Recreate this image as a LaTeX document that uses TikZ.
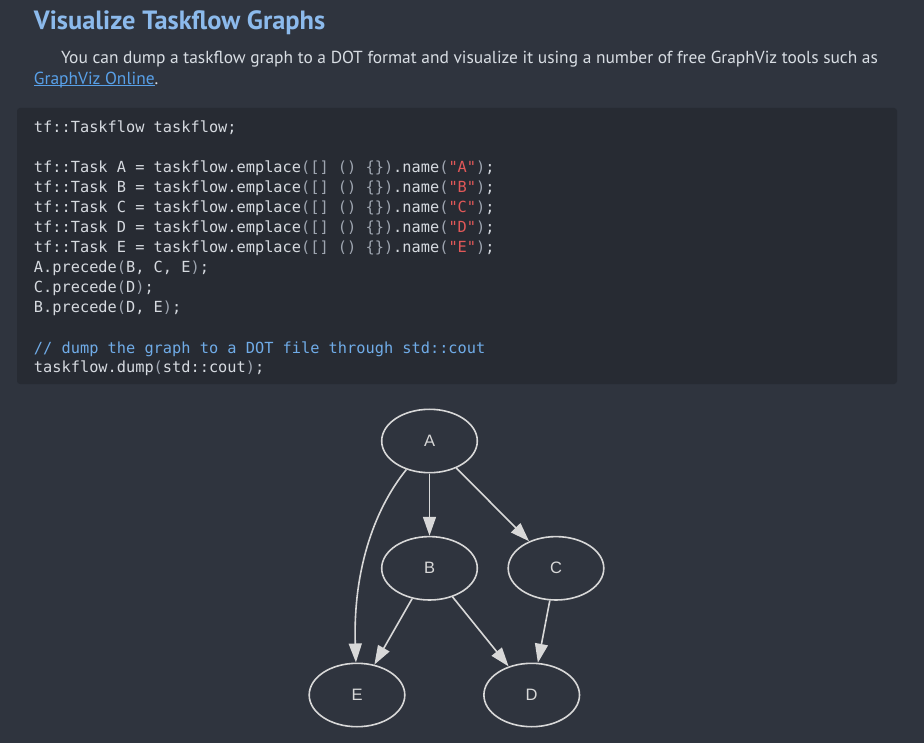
\documentclass[tikz,border=0pt]{standalone}
\usepackage{fontspec}
\usetikzlibrary{arrows.meta,shapes.geometric}
\setmainfont{PT Sans}
\newfontfamily\codefont{DejaVu Sans Mono}
\newfontfamily\graphfont{Liberation Sans}
\definecolor{pagebg}{RGB}{47,52,62}
\definecolor{codebg}{RGB}{39,43,51}
\definecolor{headcol}{RGB}{140,186,236}
\definecolor{textcol}{RGB}{216,221,227}
\definecolor{linkcol}{RGB}{88,160,232}
\definecolor{codecol}{RGB}{214,218,224}
\definecolor{codedim}{RGB}{158,165,176}
\definecolor{codestr}{RGB}{226,88,88}
\definecolor{codecmt}{RGB}{112,172,232}
\definecolor{graphcol}{RGB}{216,216,216}
\newcommand\dm[1]{\textcolor{codedim}{#1}}
\newcommand\sr[1]{\textcolor{codestr}{#1}}
\tikzset{
  txt/.style={anchor=base west, inner sep=0pt, outer sep=0pt},
  codeline/.style={txt, text=codecol, font=\codefont\fontsize{15.3}{20}\selectfont},
  task/.style={ellipse, draw=graphcol, line width=1.6pt, minimum width=95.6pt, minimum height=63.4pt, inner sep=0pt, text=graphcol, font=\graphfont\fontsize{16.5}{18}\selectfont},
  edge/.style={draw=graphcol, line width=1.6pt, -{Triangle[length=19pt,width=13pt]}}
}
\begin{document}
\begin{tikzpicture}[x=1pt,y=-1pt]
\fill[pagebg] (0,0) rectangle (924,743);
\useasboundingbox (0,0) rectangle (924,743);
% heading
\node[txt, text=headcol, font=\fontsize{26.4}{30}\selectfont\bfseries] (title) at (34,29.3) {Visualize Taskflow Graphs};
% paragraph
\node[txt, text=textcol, font=\fontsize{17.4}{22}\selectfont] (p1) at (61,63.3) {You can dump a taskflow graph to a DOT format and visualize it using a number of free GraphViz tools such as};
\node[txt, text=linkcol, font=\fontsize{17.4}{22}\selectfont] (lnk) at (34,84.3) {GraphViz Online};
\node[txt, text=textcol, font=\fontsize{17.4}{22}\selectfont, anchor=base west] (dot) at (lnk.base east) {.};
\draw[linkcol, line width=1pt] ([yshift=-1.6pt]lnk.base west) -- ([yshift=-1.6pt]lnk.base east);
% code block
\fill[codebg, rounded corners=3pt] (17,108) rectangle (897,384);
\node[codeline] (c1) at (34,133) {tf::Taskflow taskflow;};
\node[codeline] (c2) at (34,173) {tf::Task A = taskflow.emplace\dm{([] () \{\})}.name\dm{(}\sr{"A"}\dm{)};};
\node[codeline] (c3) at (34,193) {tf::Task B = taskflow.emplace\dm{([] () \{\})}.name\dm{(}\sr{"B"}\dm{)};};
\node[codeline] (c4) at (34,213) {tf::Task C = taskflow.emplace\dm{([] () \{\})}.name\dm{(}\sr{"C"}\dm{)};};
\node[codeline] (c5) at (34,233) {tf::Task D = taskflow.emplace\dm{([] () \{\})}.name\dm{(}\sr{"D"}\dm{)};};
\node[codeline] (c6) at (34,253) {tf::Task E = taskflow.emplace\dm{([] () \{\})}.name\dm{(}\sr{"E"}\dm{)};};
\node[codeline] (c7) at (34,273) {A.precede\dm{(}B, C, E\dm{)};};
\node[codeline] (c8) at (34,293) {C.precede\dm{(}D\dm{)};};
\node[codeline] (c9) at (34,313) {B.precede\dm{(}D, E\dm{)};};
\node[codeline, text=codecmt] (c10) at (34,353) {// dump the graph to a DOT file through std::cout};
\node[codeline] (c11) at (34,373) {taskflow.dump\dm{(}std::cout\dm{)};};
% graph
\node[task] (A) at (429.5,441) {A};
\node[task] (B) at (429.5,568.3) {B};
\node[task] (C) at (556,568.3) {C};
\node[task] (E) at (357,695) {E};
\node[task] (D) at (531.7,695) {D};
\draw[edge] (A) -- (B);
\draw[edge] (A) -- (C);
\draw[edge] (A) .. controls (372,512) and (353,575) .. (E);
\draw[edge] (B) -- (E);
\draw[edge] (B) -- (D);
\draw[edge] (C) -- (D);
\end{tikzpicture}
\end{document}
